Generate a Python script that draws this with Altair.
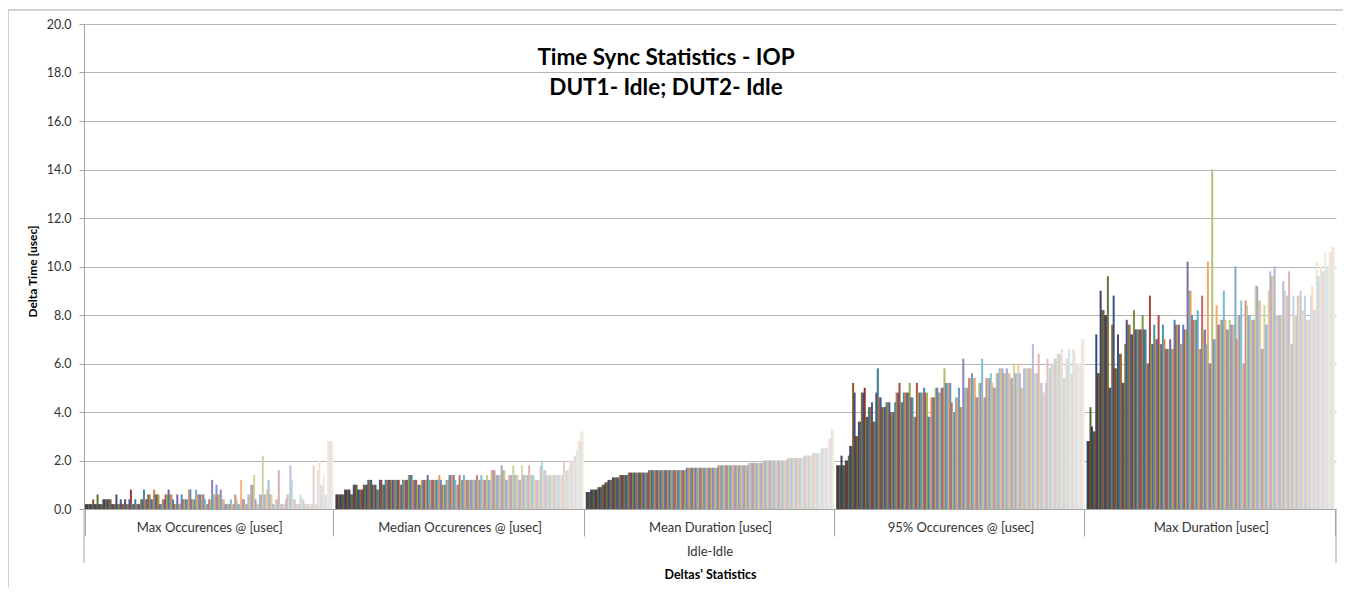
import altair as alt
import pandas as pd

categories = ["Max Occurences @ [usec]", "Median Occurences @ [usec]", "Mean Duration  [usec]",
              "95% Occurences @ [usec]", "Max Duration  [usec]"]

max_occ = [.2,.2,.2,.2,.2,.4,.2,.2,.6,.2,.2,.2,.4,.4,.4,.4,.4,.4,.2,
           .2,.2,.6,.2,.2,.4,.2,.2,.4,.2,.2,.4,.8,.2,.2,.4,.2,.2,.2,
           .4,.4,.8,.4,.4,.6,.6,.4,.4,.8,.6,.6,.6,.2,.2,.4,.4,.6,.6,
           .8,.6,.6,.4,.2,.2,.6,.2,.2,.6,.4,.4,.4,.4,.8,.8,.4,.4,.4,
           .8,.6,.6,.6,.6,.6,.4,.2,.2,.4,.4,1.2,.6,.6,1.0,.6,.6,.8,.4,
           .4,.2,.2,.2,.2,.4,.2,.2,.6,.4,.2,.2,1.2,.4,.4,.2,.2,.6,.6,
           1.0,1.0,1.4,.4,.2,.2,.6,.6,2.2,.6,.6,.8,1.2,.6,.6,.2,.2,.4,.4,
           1.6,.2,.2,.2,.2,.4,.6,.6,1.8,1.2,.4,.4,.2,.2,.2,.6,.4,.4,.2,
           .2,.2,.2,.2,.2,1.8,.2,.2,1.6,2.0,1.0,1.0,1.4,.6,.6,2.8,2.8,2.8,2.8]

median_occ = [.6,.6,.6,.6,.6,.6,.8,.8,.8,.8,.6,.6,1.0,1.0,1.0,.8,.8,.8,.8,
              1.0,1.0,1.0,1.2,1.2,1.2,1.0,1.0,1.0,.8,.8,1.2,1.2,1.0,1.0,1.2,1.2,1.2,1.2,
              1.2,1.2,1.2,1.2,1.2,1.2,1.0,1.0,1.2,1.2,1.2,1.2,1.4,1.4,1.4,1.2,1.2,1.2,1.0,
              1.0,1.0,1.2,1.2,1.2,1.2,1.4,1.2,1.2,1.2,1.2,1.2,1.2,1.2,1.4,1.2,1.0,1.0,1.0,
              1.2,1.2,1.4,1.4,1.4,1.4,1.2,1.0,1.0,1.4,1.2,1.2,1.4,1.2,1.2,1.2,1.2,1.2,1.2,
              1.2,1.2,1.4,1.2,1.2,1.4,1.2,1.2,1.2,1.4,1.2,1.2,1.6,1.6,1.6,1.4,1.4,1.4,1.4,
              1.8,1.6,1.6,1.2,1.2,1.4,1.4,1.4,1.8,1.4,1.4,1.4,1.2,1.2,1.8,1.4,1.4,1.4,1.4,
              1.8,1.4,1.4,1.4,1.2,1.2,1.2,1.2,1.8,2.0,1.6,1.6,1.4,1.4,1.4,1.4,1.4,1.4,1.4,
              1.4,1.4,1.4,1.4,1.4,2.0,1.6,1.6,1.6,2.0,2.0,2.0,2.2,2.2,2.4,2.8,2.8,3.2,3.2]

mean_dur = [.7,.7,.7,.8,.8,.8,.8,.8,.9,.9,.9,1.0,1.0,1.1,1.1,1.2,1.2,1.2,
            1.3,1.3,1.3,1.3,1.3,1.4,1.4,1.4,1.4,1.4,1.4,
            1.5,1.5,1.5,1.5,1.5,1.5,1.5,1.5,1.5,1.5,1.5,1.5,1.5,1.5,
            1.6,1.6,1.6,1.6,1.6,1.6,1.6,1.6,1.6,1.6,1.6,1.6,1.6,1.6,1.6,1.6,1.6,1.6,1.6,1.6,1.6,1.6,1.6,1.6,1.6,1.6,
            1.7,1.7,1.7,1.7,1.7,1.7,1.7,1.7,1.7,1.7,1.7,1.7,1.7,1.7,1.7,1.7,1.7,1.7,1.7,1.7,1.7,1.7,
            1.8,1.8,1.8,1.8,1.8,1.8,1.8,1.8,1.8,1.8,1.8,1.8,1.8,1.8,1.8,1.8,1.8,1.8,1.8,1.8,1.8,
            1.9,1.9,1.9,1.9,1.9,1.9,1.9,1.9,1.9,1.9,
            2.0,2.0,2.0,2.0,2.0,2.0,2.0,2.0,2.0,2.0,2.0,2.0,2.0,2.0,2.0,2.0,2.0,
            2.1,2.1,2.1,2.1,2.1,2.1,2.1,2.1,2.1,2.1,2.1,
            2.2,2.2,2.2,2.2,2.2,2.2,2.3,2.3,2.3,2.3,2.3,2.3,
            2.5,2.5,2.5,2.5,2.5,2.9,2.9,3.3,3.3]

p95_occ = [1.8,1.8,1.8,2.2,1.8,1.8,2.0,2.0,2.2,2.6,2.6,5.2,4.8,3.0,3.0,3.6,3.6,4.8,4.8,
           5.0,3.8,3.8,4.2,4.2,4.4,3.6,3.6,4.8,5.8,4.6,4.6,4.2,4.2,4.2,4.4,4.4,4.4,4.0,
           4.0,4.0,4.4,4.8,4.8,5.2,4.4,4.4,4.8,4.8,4.8,4.8,5.2,4.6,4.6,3.8,3.8,5.2,4.8,
           4.8,4.8,4.8,5.0,4.8,4.8,3.8,3.8,4.6,4.6,4.6,5.0,5.0,4.8,4.8,5.0,5.0,5.8,5.2,
           5.2,5.2,5.2,4.4,4.0,4.0,4.6,4.6,5.0,4.2,4.2,6.2,5.0,5.0,5.0,5.4,5.4,5.6,5.4,
           5.4,4.6,4.6,5.2,5.2,6.2,4.6,4.6,5.4,5.4,5.4,5.6,5.2,5.0,5.0,5.6,5.6,5.8,5.8,
           5.8,5.6,5.6,5.8,5.6,5.6,5.4,5.4,6.0,5.6,5.6,6.0,5.6,5.0,5.0,5.8,5.8,5.8,5.8,
           5.8,5.8,6.8,5.6,5.6,5.6,6.4,5.2,5.2,4.8,4.8,5.2,6.2,5.8,5.8,6.0,6.0,6.2,6.2,
           6.4,6.4,6.4,6.6,5.4,5.4,6.2,6.2,6.6,5.6,5.6,6.6,6.4,6.0,6.0,6.0,6.0,7.0,7.0]

max_dur = [2.8,2.8,4.2,3.4,3.2,3.2,7.2,5.6,5.6,9.0,8.2,8.2,8.0,8.0,9.6,5.0,5.0,7.6,8.8,
           5.8,5.8,7.2,6.4,6.4,5.2,5.2,6.8,7.8,7.6,7.6,7.2,7.2,8.2,7.4,7.4,7.4,7.4,7.4,
           8.0,7.4,7.4,6.0,6.0,8.8,6.8,6.8,7.6,7.0,7.0,8.0,6.8,6.8,7.6,7.0,6.6,6.6,6.6,
           7.0,6.6,6.6,7.8,7.6,7.6,7.6,6.8,6.8,7.6,7.4,7.4,10.2,9.0,9.0,8.0,7.8,7.8,7.8,
           8.2,6.6,6.6,8.8,7.4,7.4,6.8,10.2,6.0,6.0,14.0,7.0,7.0,8.4,7.6,7.6,7.8,7.8,9.0,
           7.8,7.4,7.4,7.8,7.6,7.6,7.6,10.0,7.0,8.0,8.0,8.6,6.0,6.0,8.6,8.4,8.0,8.0,7.8,
           7.8,7.8,9.2,9.2,8.6,8.6,6.6,6.6,8.4,7.6,7.6,9.0,9.8,9.6,9.6,10.0,8.0,8.0,8.0,
           8.0,8.0,9.4,9.0,8.8,8.8,9.8,6.8,6.8,8.8,8.0,8.0,8.8,8.8,9.0,8.2,8.2,8.8,7.8,
           7.8,7.8,8.8,9.2,8.2,8.2,10.2,9.6,9.6,10.0,9.8,9.8,10.6,10.0,10.0,10.6,10.6,10.8,10.8]

all_series = [max_occ, median_occ, mean_dur, p95_occ, max_dur]
N = 171

rows = [{"cat": c, "series": i, "value": vals[i]}
        for c, vals in zip(categories, all_series) for i in range(N)]
df = pd.DataFrame(rows)

# Spreadsheet-style palette: six accents, cycled from dark shades to light tints
accents = [(0x4F,0x81,0xBD),(0xC0,0x50,0x4D),(0x9B,0xBB,0x59),(0x80,0x64,0xA2),(0x4B,0xAC,0xC6),(0xF7,0x96,0x46)]
palette = []
for i in range(N):
    r, g, b = accents[i % 6]
    t = -0.45 + 1.25 * (i // 6) / 28
    if t < 0:
        f = 1 + t
        c = (r * f, g * f, b * f)
    else:
        c = (r + (255 - r) * t, g + (255 - g) * t, b + (255 - b) * t)
    palette.append("#%02x%02x%02x" % tuple(int(min(255, v)) for v in c))

AX = "#A6A6A6"
TXT = "#333333"
FONT = "Lato"

bars = alt.Chart(df).mark_bar(width=2).encode(
    x=alt.X("cat:N", sort=categories,
            scale=alt.Scale(paddingInner=0.01, paddingOuter=0.005),
            axis=alt.Axis(title="Deltas' Statistics", tickBand="extent", tickSize=27, tickColor=AX,
                          domainColor=AX, labelAngle=0, labelPadding=-15, labelFontSize=13,
                          labelColor=TXT, labelFont=FONT, titleFont=FONT, titleFontSize=12.5,
                          titleFontWeight="bold", titleColor="#000000", titleY=59, grid=False)),
    xOffset=alt.XOffset("series:O", sort=None),
    y=alt.Y("value:Q", scale=alt.Scale(domain=[0, 20], nice=False),
            axis=alt.Axis(title="Delta Time [usec]", values=[0,2,4,6,8,10,12,14,16,18,20], format=".1f",
                          grid=True, gridColor="#B5B5B5", gridWidth=1, domainColor=AX, tickColor=AX, tickSize=5,
                          labelFontSize=12.5, labelColor=TXT, labelFont=FONT, labelPadding=8,
                          titleFont=FONT, titleFontSize=12, titleFontWeight="bold", titleColor="#000000",
                          titleX=-45, titleY=247)),
    color=alt.Color("series:O", sort=None, scale=alt.Scale(domain=list(range(N)), range=palette), legend=None),
)

def text_row(t, x, y, size, weight="normal", color="#000000"):
    return alt.Chart(pd.DataFrame({"t": [t]})).mark_text(
        fontSize=size, fontWeight=weight, font=FONT, color=color, align="center", baseline="middle"
    ).encode(text="t:N", x=alt.value(x), y=alt.value(y))

def line(x, x2, y, y2):
    return alt.Chart(pd.DataFrame({"a": [0]})).mark_rule(color=AX, strokeWidth=1).encode(
        x=alt.value(x), x2=alt.value(x2), y=alt.value(y), y2=alt.value(y2))

chart = alt.layer(
    bars,
    line(0, 0, 485, 539),
    line(1252, 1252, 485, 539),
    line(-76, -76, -14, 564),
    line(-76, 1259, -14, -14),
    text_row("Time Sync Statistics - IOP", 582, 34, 22.5, "bold"),
    text_row("DUT1- Idle; DUT2- Idle", 582, 64, 22.5, "bold"),
    text_row("Idle-Idle", 626, 528, 13, "normal", TXT),
).properties(
    width=1252, height=485,
    autosize=alt.AutoSizeParams(type="none"),
    padding={"left": 76, "top": 16, "right": 7, "bottom": 79},
).configure_view(stroke=None).configure_axis(domainWidth=1, tickWidth=1)

chart.save("out.html", embed_options={"renderer": "svg", "actions": False})
